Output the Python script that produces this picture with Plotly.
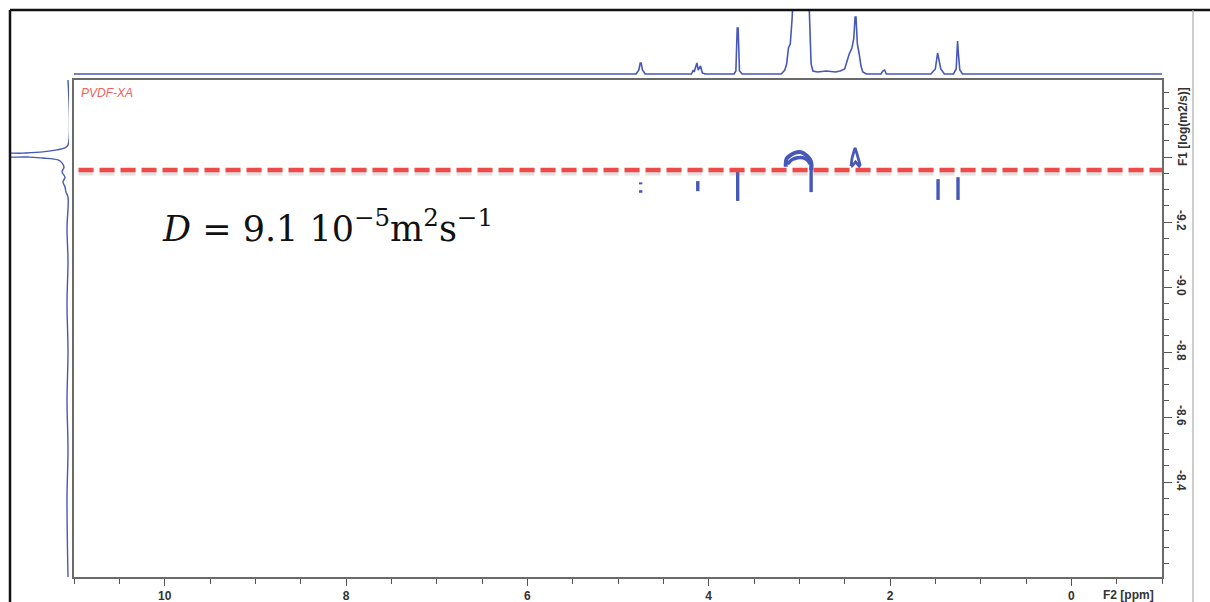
import plotly.graph_objects as go

W, H = 1210, 602

# ---------------- data ----------------
# 1D 1H projection on top (ppm, intensity)
top_ppm = [11.0, 4.80, 4.77, 4.755, 4.745, 4.73, 4.70,
           4.19, 4.17, 4.16, 4.13, 4.115, 4.09, 4.07, 4.04,
           3.72, 3.70, 3.685, 3.675, 3.66, 3.63,
           3.20, 3.16, 3.14, 3.12, 3.10, 3.08, 3.06, 2.90, 2.88, 2.87, 2.85,
           2.80, 2.70, 2.60, 2.55, 2.50, 2.45, 2.42, 2.40, 2.385, 2.375, 2.36, 2.34, 2.32, 2.30, 2.26,
           2.10, 2.08, 2.06, 2.04,
           1.55, 1.50, 1.475, 1.46, 1.44, 1.40,
           1.30, 1.27, 1.255, 1.245, 1.23, 1.20, -1.0]
top_int = [0, 0, 4, 11, 11, 4, 0,
           0, 4, 2, 11, 4, 8, 1, 0,
           0, 3, 46, 46, 3, 0,
           0, 4, 10, 26, 30, 55, 90, 90, 40, 10, 3,
           2, 3, 2, 3, 5, 20, 26, 35, 57, 57, 30, 20, 8, 2, 0,
           0, 3, 4, 0,
           0, 5, 21, 12, 5, 0,
           0, 5, 33, 20, 4, 0, 0]

# diffusion projection on the left (log D, intensity)
left_logd = [-9.637, -9.437, -9.428, -9.422, -9.416, -9.412, -9.409, -9.403, -9.400,
             -9.397, -9.391, -9.382, -9.369, -9.354, -9.338, -9.323, -9.308, -9.292, -9.277,
             -9.18, -9.08, -8.95, -8.80, -8.65, -8.50, -8.35, -8.108]
left_int = [0, 0, 3, 11, 25, 45, 70, 70, 40,
            25, 10, 6, 4, 6, 3, 5, 3, 2, 0,
            1, 0, 1, 0, 1, 0, 1, 0]

# DOSY cross peaks: vertical streaks (ppm, logD top, logD bottom)
streak_ppm = [4.75, 4.75, 4.12, 3.68, 2.87, 1.47, 1.25]
streak_top = [-9.322, -9.298, -9.326, -9.354, -9.382, -9.332, -9.338]
streak_bot = [-9.316, -9.290, -9.295, -9.265, -9.292, -9.268, -9.268]

# broad cross peak near 3.0 ppm (outline)
arch_ppm = [3.15, 3.14, 3.10, 3.05, 2.98, 2.92, 2.88, 2.865, 2.87]
arch_logd = [-9.370, -9.395, -9.405, -9.413, -9.415, -9.405, -9.392, -9.375, -9.36]
arch_in_ppm = [3.13, 3.08, 3.02, 2.96, 2.91, 2.88]
arch_in_logd = [-9.378, -9.392, -9.398, -9.398, -9.390, -9.378]

# cross peak near 2.38 ppm (outline)
blob_ppm = [2.43, 2.42, 2.40, 2.385, 2.37, 2.35, 2.33, 2.34, 2.38, 2.42, 2.43]
blob_logd = [-9.372, -9.395, -9.415, -9.428, -9.415, -9.395, -9.376, -9.372, -9.385, -9.372, -9.372]

D_LOG = -9.36                       # red dashed line position
x_ticks = [10, 8, 6, 4, 2, 0]
y_ticks = [-9.4, -9.2, -9.0, -8.8, -8.6, -8.4]
y_ticktext = ["", "-9.2", "-9.0", "-8.8", "-8.6", "-8.4"]

BLUE = "#4658b8"
RED = "#ee4a47"

# ---------------- layout helpers ----------------
def px_x(x):
    return x / W

def px_y(y):
    return (H - y) / H

X_RANGE = [11.0, -1.0]
Y_RANGE = [-9.637, -8.108]

fig = go.Figure()

# top projection
fig.add_trace(go.Scatter(x=top_ppm, y=top_int, mode="lines", xaxis="x2", yaxis="y2",
                         line=dict(color=BLUE, width=1.6), hoverinfo="skip", showlegend=False))
# left projection
fig.add_trace(go.Scatter(x=left_int, y=left_logd, mode="lines", xaxis="x3", yaxis="y3",
                         line=dict(color=BLUE, width=1.4, shape="spline"), hoverinfo="skip",
                         showlegend=False))

# cross peaks
for p, t, b in zip(streak_ppm, streak_top, streak_bot):
    fig.add_trace(go.Scatter(x=[p, p], y=[t, b], mode="lines",
                             line=dict(color=BLUE, width=3.4), hoverinfo="skip", showlegend=False))
fig.add_trace(go.Scatter(x=arch_ppm, y=arch_logd, mode="lines",
                         line=dict(color=BLUE, width=4, shape="spline"), hoverinfo="skip",
                         showlegend=False))
fig.add_trace(go.Scatter(x=arch_in_ppm, y=arch_in_logd, mode="lines",
                         line=dict(color=BLUE, width=3.5, shape="spline"), hoverinfo="skip",
                         showlegend=False))
fig.add_trace(go.Scatter(x=blob_ppm, y=blob_logd, mode="lines",
                         line=dict(color=BLUE, width=2.8), hoverinfo="skip", showlegend=False))

# red dashed line with soft shadow
fig.add_trace(go.Scatter(x=[10.95, X_RANGE[1]], y=[D_LOG + 0.006, D_LOG + 0.006], mode="lines",
                         line=dict(color="rgba(120,120,120,0.22)", width=7, dash="15px,6px"),
                         hoverinfo="skip", showlegend=False))
fig.add_trace(go.Scatter(x=[10.95, X_RANGE[1]], y=[D_LOG, D_LOG], mode="lines",
                         line=dict(color=RED, width=4.5, dash="15px,6px"),
                         hoverinfo="skip", showlegend=False))

tickfont = dict(family="Liberation Sans Narrow, Liberation Sans, Arial", size=12, color="#333")

main_dom_x = [px_x(74), px_x(1162)]
main_dom_y = [px_y(577), px_y(80)]

fig.update_layout(
    width=W, height=H,
    margin=dict(l=0, r=0, t=0, b=0),
    paper_bgcolor="white", plot_bgcolor="white",
    showlegend=False,
    xaxis=dict(domain=main_dom_x, range=X_RANGE, anchor="y",
               tickvals=x_ticks, ticktext=["<b>%d</b>" % v for v in x_ticks],
               ticks="outside", ticklen=7, tickwidth=1.3, tickcolor="#555",
               minor=dict(dtick=0.5, ticks="outside", ticklen=5, tickcolor="#555", tickwidth=1.3),
               showline=True, linecolor="#6a6a6a", linewidth=2, mirror=True,
               showgrid=False, zeroline=False, tickfont=tickfont),
    yaxis=dict(domain=main_dom_y, range=[Y_RANGE[1], Y_RANGE[0]], anchor="x", side="right",
               tickvals=y_ticks, ticktext=["<b>%s</b>" % t if t else "" for t in y_ticktext],
               tickangle=90,
               ticks="outside", ticklen=8, tickwidth=1.3, tickcolor="#555",
               minor=dict(dtick=0.05, tick0=-9.4, ticks="outside", ticklen=5, tickcolor="#555",
                          tickwidth=1.3),
               showline=True, linecolor="#6a6a6a", linewidth=2, mirror=True,
               showgrid=False, zeroline=False, tickfont=tickfont),
    xaxis2=dict(domain=main_dom_x, range=X_RANGE, anchor="y2", visible=False),
    yaxis2=dict(domain=[px_y(75), px_y(10)], range=[-1, 64], anchor="x2", visible=False),
    xaxis3=dict(domain=[px_x(10), px_x(69)], range=[58, -1], anchor="y3", visible=False),
    yaxis3=dict(domain=main_dom_y, range=[Y_RANGE[1], Y_RANGE[0]], anchor="x3", visible=False),
)

# outer frame
fig.add_shape(type="line", xref="paper", yref="paper", x0=px_x(10), x1=px_x(10),
              y0=px_y(10), y1=0, line=dict(color="#111", width=2.5))
fig.add_shape(type="line", xref="paper", yref="paper", x0=px_x(10), x1=1,
              y0=px_y(10), y1=px_y(10), line=dict(color="#111", width=2.5))
fig.add_shape(type="line", xref="paper", yref="paper", x0=px_x(1193), x1=px_x(1193),
              y0=px_y(10), y1=0, line=dict(color="#aaa", width=1.2))

# texts
fig.add_annotation(xref="paper", yref="paper", x=px_x(79), y=px_y(93), xanchor="left",
                   yanchor="middle", showarrow=False, text="<i>PVDF-XA</i>",
                   font=dict(family="Liberation Sans, Arial", size=12, color="#f2605c"))
fig.add_annotation(xref="paper", yref="paper", x=px_x(160), y=px_y(226), xanchor="left",
                   yanchor="middle", showarrow=False,
                   text="<i>D</i> = 9.1 10<sup>−5</sup>m<sup>2</sup>s<sup>−1</sup>",
                   font=dict(family="DejaVu Serif, Liberation Serif", size=35, color="#111"))
fig.add_annotation(xref="paper", yref="paper", x=px_x(1183), y=px_y(127), xanchor="center",
                   yanchor="middle", showarrow=False, textangle=-90,
                   text="<b>F1 [log(m2/s)]</b>", font=tickfont)
fig.add_annotation(xref="paper", yref="paper", x=px_x(1128), y=px_y(595), xanchor="center",
                   yanchor="middle", showarrow=False,
                   text="<b>F2 [ppm]</b>", font=tickfont)

fig.write_html("out.html", config={"displayModeBar": False},
               post_script="document.body.style.margin='0px';"
               "document.body.style.overflow='hidden';")
